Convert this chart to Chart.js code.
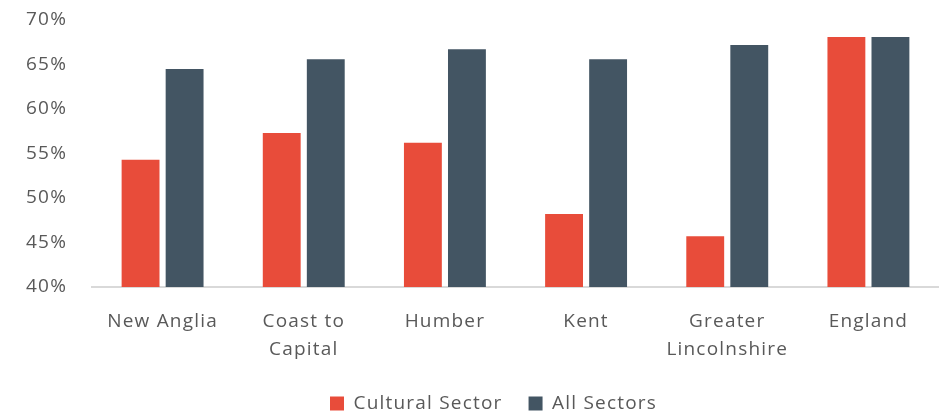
<!DOCTYPE html>
<html><head><meta charset="utf-8">
<script src="https://cdn.jsdelivr.net/npm/chart.js@4/dist/chart.umd.min.js"></script>
<style>html,body{margin:0;padding:0;background:#fff}#w{width:939px;height:415px}</style>
</head><body><div id="w"><canvas id="c"></canvas></div>
<script>
const categories = [["New Anglia"], ["Coast to", "Capital"], ["Humber"], ["Kent"], ["Greater", "Lincolnshire"], ["England"]];
const culturalSector = [54.3, 57.3, 56.2, 48.2, 45.7, 68.1];
const allSectors = [64.5, 65.6, 66.7, 65.6, 67.2, 68.1];
const yTicks = [40, 45, 50, 55, 60, 65, 70];

const FONT = 'Open Sans';
const spacing = {
  id: 'spacing',
  beforeLayout(chart) { chart.ctx.letterSpacing = '1.2px'; },
  afterLayout(chart) { chart.legend.left += 11; chart.legend.right += 11; },
  beforeDraw(chart) { chart.ctx.letterSpacing = '1.2px'; }
};
new Chart(document.getElementById('c'), {
  type: 'bar',
  plugins: [spacing],
  data: {
    labels: categories,
    datasets: [
      {label: 'Cultural Sector', data: culturalSector, backgroundColor: '#E84C3A'},
      {label: 'All Sectors', data: allSectors, backgroundColor: '#435563'}
    ]
  },
  options: {
    responsive: true, maintainAspectRatio: false, animation: false,
    datasets: {bar: {categoryPercentage: 0.624, barPercentage: 0.86}},
    layout: {padding: {left: 26, right: 0, top: 20, bottom: -8}},
    plugins: {
      tooltip: {enabled: false},
      legend: {
        position: 'bottom',
        labels: {font: {family: FONT, size: 19}, color: '#595959', boxWidth: 14, boxHeight: 14, padding: 26}
      }
    },
    scales: {
      x: {
        grid: {display: false, drawTicks: false},
        border: {display: true, color: '#d9d9d9', width: 2},
        ticks: {font: {family: FONT, size: 19, lineHeight: 1.5}, color: '#595959', padding: 20, maxRotation: 0, autoSkip: false},
        afterFit: (s) => { s.height -= 16; }
      },
      y: {
        min: 40, max: 70,
        afterBuildTicks: (s) => { s.ticks = yTicks.map(v => ({value: v})); },
        afterFit: (s) => { s.width = 66; },
        grid: {display: false, drawTicks: false},
        border: {display: false},
        ticks: {font: {family: FONT, size: 19}, color: '#595959', padding: 0, crossAlign: 'far', callback: v => v + '%'}
      }
    }
  }
});
</script></body></html>
